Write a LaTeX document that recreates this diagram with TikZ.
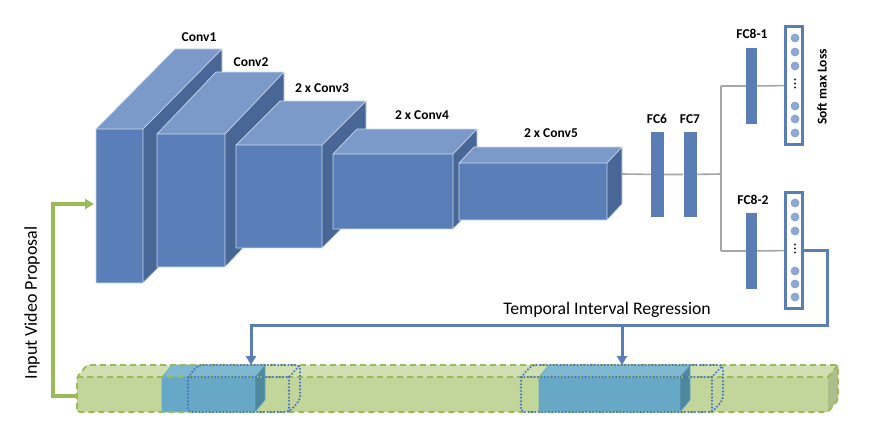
\documentclass[tikz,border=0pt]{standalone}
\usepackage{fontspec}
\setmainfont{Carlito}
\usetikzlibrary{arrows.meta,calc}
\definecolor{cfront}{RGB}{90,127,184}
\definecolor{ctop}{RGB}{123,154,201}
\definecolor{cside}{RGB}{73,103,150}
\definecolor{cedge}{RGB}{200,214,236}
\definecolor{gfront}{RGB}{194,213,155}
\definecolor{gtop}{RGB}{209,224,179}
\definecolor{gside}{RGB}{172,190,137}
\definecolor{gline}{RGB}{155,187,89}
\definecolor{bfront}{RGB}{102,168,197}
\definecolor{btop}{RGB}{126,185,209}
\definecolor{bside}{RGB}{78,135,158}
\definecolor{bedge}{RGB}{102,168,197}
\definecolor{bdotc}{RGB}{68,114,196}
\definecolor{fcblue}{RGB}{91,125,182}
\definecolor{circfill}{RGB}{143,168,215}
\definecolor{grayl}{RGB}{166,166,166}
\newcommand{\myblock}[7]{%
 \fill[#7front] (#1,#2) rectangle (#3,#4);
 \fill[#7top] (#1,#2) -- ({#1+#5},{#2-#6}) -- ({#3+#5},{#2-#6}) -- (#3,#2) -- cycle;
 \fill[#7side] (#3,#2) -- ({#3+#5},{#2-#6}) -- ({#3+#5},{#4-#6}) -- (#3,#4) -- cycle;
 \draw[draw=#7edge,line width=0.7pt,line join=round] (#1,#2) rectangle (#3,#4)
   (#1,#2) -- ({#1+#5},{#2-#6}) -- ({#3+#5},{#2-#6}) -- ({#3+#5},{#4-#6}) -- (#3,#4)
   (#3,#2) -- ({#3+#5},{#2-#6});
}
\tikzset{
 lbl/.style={font=\bfseries\fontsize{13.5}{14}\selectfont,inner sep=0pt},
 fcbar/.style={fill=fcblue,draw=none,minimum width=#1,inner sep=0pt},
 outbox/.style={draw=fcblue,fill=white,line width=3pt,minimum width=17pt,inner sep=0pt},
 neuron/.style={circle,fill=circfill,draw=fcblue!80,line width=0.5pt,minimum size=8pt,inner sep=0pt},
 grayline/.style={draw=grayl,line width=1.6pt},
 blueline/.style={draw=fcblue,line width=3pt},
 greenline/.style={draw=gline,line width=3.2pt},
 tip/.style={-{Triangle[width=10pt,length=9pt]}},
 gdash/.style={draw=gline,line width=1.8pt,dash pattern=on 6pt off 4pt},
 bdot/.style={draw=bdotc,line width=2.3pt,line cap=round,dash pattern=on 0pt off 3.4pt},
}
\begin{document}
\begin{tikzpicture}[x=1pt,y=-1pt]
\useasboundingbox (0,0) rectangle (874,444);
% conv blocks
\myblock{96}{129}{143}{283}{79}{80}{c}
\myblock{157}{134}{225}{267}{59}{62}{c}
\myblock{236}{145}{322}{248}{44}{44}{c}
\myblock{333}{154}{453}{229}{24}{25}{c}
\myblock{459}{163}{607}{220}{15}{16}{c}
\node[lbl] (l1) at (199,37) {Conv1};
\node[lbl] (l2) at (251,62) {Conv2};
\node[lbl] (l3) at (322,88) {2 x Conv3};
\node[lbl] (l4) at (422,115) {2 x Conv4};
\node[lbl] (l5) at (551,133) {2 x Conv5};
% FC layers
\coordinate (c5) at (622,174);
\node[fcbar=13pt,minimum height=85pt] (fc6) at (657.5,174.5) {};
\node[fcbar=13pt,minimum height=85pt] (fc7) at (690,174.5) {};
\node[lbl] (lfc6) at (657,119) {FC6};
\node[lbl] (lfc7) at (690,119) {FC7};
\coordinate (split) at (721,174);
\node[fcbar=11pt,minimum height=76pt] (fc81) at (751.5,86) {};
\node[fcbar=11pt,minimum height=76pt] (fc82) at (751.5,251) {};
\node[lbl] (lfc81) at (752,34) {FC8-1};
\node[lbl] (lfc82) at (753,200) {FC8-2};
\draw[grayline] (c5) -- (fc6) (fc6) -- (fc7) (fc7) -- (split);
\draw[grayline] (split |- fc81) -- (split |- fc82);
\draw[grayline] (split |- fc81) -- (fc81);
\draw[grayline] (split |- fc82) -- (fc82);
\node[outbox,minimum height=118pt] (out1) at (794,85.5) {};
\node[outbox,minimum height=116pt] (out2) at (794,250.5) {};
\draw[grayline] (fc81) -- (out1);
\draw[grayline] (fc82) -- (out2);
\foreach \yy [count=\i] in {38,52,66,106,119,133} \node[neuron] (n1\i) at (795,\yy) {};
\foreach \yy [count=\i] in {203,217,231,271,284,297} \node[neuron] (n2\i) at (795,\yy) {};
\foreach \yy in {79.5,83.5,87.5} \fill[black!85] (795,\yy) circle (1.2pt);
\foreach \yy in {244.5,248.5,252.5} \fill[black!85] (795,\yy) circle (1.2pt);
\node[lbl,rotate=90] (lsm) at (822,87) {Soft max Loss};
% bottom bar
\fill[gfront] (77,377) rectangle (828,412);
\fill[gtop] (77,377) -- (87,365) -- (838,365) -- (828,377) -- cycle;
\fill[gside] (828,377) -- (838,365) -- (838,400) -- (828,412) -- cycle;
\myblock{162}{377}{255}{412}{10}{12}{b}
\myblock{539}{377}{680}{412}{10}{12}{b}
\draw[gdash,rounded corners=3pt] (77,412) -- (77,377) -- (87,365) -- (838,365) -- (838,400) -- (828,412) -- cycle;
\draw[gdash] (77,377) -- (828,377) -- (838,365);
\draw[bdot,rounded corners=4pt] (188,412) -- (188,377) -- (198,365) -- (300,365) -- (300,400) -- (289,412) -- cycle;
\draw[bdot] (188,377) -- (289,377) -- (300,365) (289,377) -- (289,412);
\draw[bdot,rounded corners=4pt] (521,412) -- (521,377) -- (532,365) -- (723,365) -- (723,400) -- (712,412) -- cycle;
\draw[bdot] (521,377) -- (712,377) -- (723,365) (712,377) -- (712,412);
% regression connector
\coordinate (r1) at (827,325);
\coordinate (a1) at (251,365);
\coordinate (b2) at (622,325);
\coordinate (a2) at (622,365);
\draw[blueline,tip] (out2.east) -| (r1) -| (a1);
\draw[blueline,tip] (b2) -- (a2);
\node[font=\fontsize{17.7}{18}\selectfont,inner sep=0pt,anchor=base] (treg) at (607,314) {Temporal Interval Regression};
% input connector
\coordinate (g0) at (77,396);
\coordinate (g1) at (53,204);
\coordinate (g2) at (94,204);
\draw[greenline,tip] (g0) -| (g1) -- (g2);
\node[font=\fontsize{18}{18}\selectfont,inner sep=0pt,rotate=90] (lin) at (32,303) {Input Video Proposal};
\end{tikzpicture}
\end{document}
